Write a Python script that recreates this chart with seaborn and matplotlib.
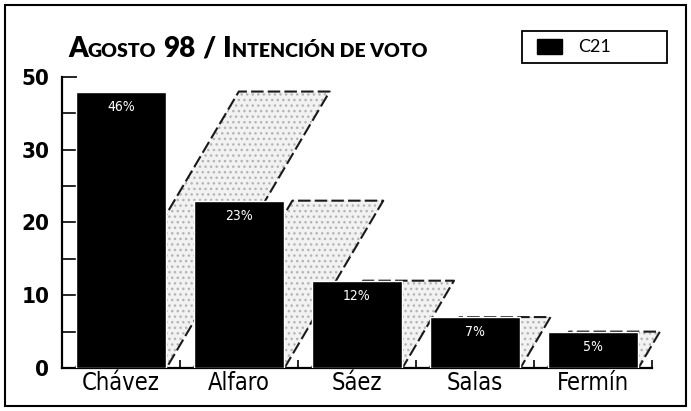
import numpy as np
import pandas as pd
import matplotlib
matplotlib.use('Agg')
import matplotlib.pyplot as plt
import seaborn as sns
from matplotlib.patches import Rectangle, Polygon

candidatos = ['Chávez', 'Alfaro', 'Sáez', 'Salas', 'Fermín']
intencion = [46, 23, 12, 7, 5]
etiquetas = ['46%', '23%', '12%', '7%', '5%']
serie = 'C21'
y_ticks = [0, 10, 20, 30, 50]
y_minor = [5, 15, 25, 40]

sns.set_style('ticks')
TITLE = ['Lato', 'DejaVu Sans']
plt.rcParams['font.family'] = ['DejaVu Sans']
plt.rcParams['font.stretch'] = 'condensed'
plt.rcParams['text.color'] = 'black'


# el eje del original esta comprimido por encima de 30
def fwd(y):
    y = np.asarray(y, dtype=float)
    return np.where(y <= 30, y, 30 + (y - 30) / 2)


def inv(y):
    y = np.asarray(y, dtype=float)
    return np.where(y <= 30, y, 30 + (y - 30) * 2)


W, H = 691, 411
fig = plt.figure(figsize=(W / 100, H / 100), dpi=100)
ax = fig.add_axes([62 / W, 1 - 368 / H, 590 / W, 291 / H])

df = pd.DataFrame({'candidato': candidatos, 'voto': intencion})
sns.barplot(data=df, x='candidato', y='voto', color='black', saturation=1,
            width=0.77, ax=ax, zorder=3)
bars = list(ax.patches)

ax.set_yscale('function', functions=(fwd, inv))
ax.set_ylim(0, 50)
ax.set_xlim(-0.5, 4.5)

# sombras inclinadas detras de cada barra
k = 0.0364
for bar in bars:
    x0, w, h = bar.get_x(), bar.get_width(), bar.get_height()
    s = k * float(fwd(h))
    pts = [(x0, 0), (x0 + w, 0), (x0 + w + s, h), (x0 + s, h)]
    ax.add_patch(Polygon(pts, closed=True, facecolor='#f2f2f2', edgecolor='#b4b4b4',
                         hatch='...', lw=0, zorder=1, clip_on=False))
    ax.plot([x0, x0 + s, x0 + w + s, x0 + w], [0, h, h, 0], color='#1a1a1a',
            lw=1.5, ls=(0, (6, 2)), zorder=2, clip_on=False)

for bar, txt in zip(bars, etiquetas):
    ax.annotate(txt, (bar.get_x() + bar.get_width() / 2, bar.get_height()),
                xytext=(0, -6), textcoords='offset points', ha='center', va='top',
                color='white', fontsize=10, zorder=4)

ax.set_yticks(y_ticks, labels=[str(t) for t in y_ticks])
ax.set_yticks(y_minor, minor=True)
ax.tick_params(axis='y', which='both', direction='in', length=11, width=1.4,
               pad=9, labelsize=16, labelcolor='black')
for lbl in ax.get_yticklabels():
    lbl.set_fontweight('bold')

ax.set_xticks(range(len(candidatos)), labels=candidatos)
ax.set_xticks(np.arange(len(candidatos)) + 0.5, minor=True)
ax.tick_params(axis='x', which='major', length=0, labelsize=17, pad=2, labelcolor='black')
ax.tick_params(axis='x', which='minor', direction='in', length=6, width=1.4)

ax.set_xlabel('')
ax.set_ylabel('')
sns.despine(ax=ax)
for sp in ['left', 'bottom']:
    ax.spines[sp].set_linewidth(1.6)
    ax.spines[sp].set_color('black')

# titulo en versalitas
r = fig.canvas.get_renderer()
partes = [('A', 20, 0), ('GOSTO', 14, 0), ('98', 20, 7), ('/', 20, 7),
          ('I', 20, 7), ('NTENCIÓN DE VOTO', 14, 0)]
x = 68
for txt, size, gap in partes:
    x += gap
    t = fig.text(x / W, 1 - 57 / H, txt, fontsize=size, fontweight='heavy',
                 family=TITLE, stretch='normal', va='baseline', ha='left')
    x += t.get_window_extent(r).width

# leyenda con marco propio
fig.add_artist(Rectangle((522 / W, 1 - 63 / H), 145 / W, 32 / H, transform=fig.transFigure,
                         fill=False, lw=1.3, ec='black'))
handle = Rectangle((0, 0), 1, 1, color='black')
fig.legend([handle], [serie], loc='center left', bbox_to_anchor=(537 / W, 1 - 47 / H),
           frameon=False, handlelength=1.4, handleheight=0.9, handletextpad=0.9,
           borderpad=0, borderaxespad=0, labelcolor='black',
           prop={'family': TITLE, 'size': 13, 'weight': 'normal'})

fig.add_artist(Rectangle((5 / W, 5 / H), 681 / W, 401 / H, transform=fig.transFigure,
                         fill=False, lw=1.5, ec='black'))

fig.savefig('out.png', dpi=100)
